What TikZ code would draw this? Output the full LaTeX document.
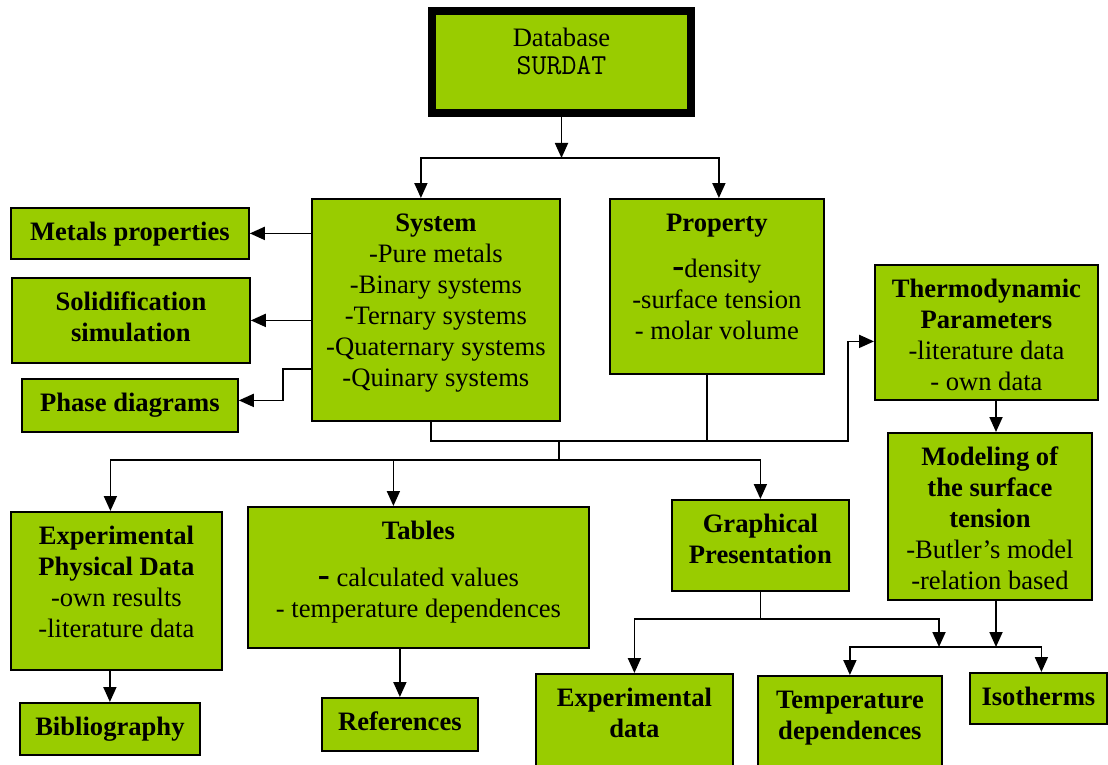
\documentclass[tikz,border=0pt]{standalone}
\usepackage{fontspec}
\setmainfont{Liberation Serif}
\usepackage{xcolor}
\usepackage{tikz}
\usetikzlibrary{arrows.meta, positioning, calc}
\definecolor{leaf}{RGB}{153,204,0}

\begin{document}
\begin{tikzpicture}[
  x=1pt, y=-1pt,
  font=\fontsize{26.6}{31}\selectfont,
  every node/.style={text=black},
  bx/.style={rectangle, draw=black, line width=1.8pt, fill=leaf,
             align=center, inner xsep=3pt, inner ysep=0pt,
             text height=33pt, anchor=north west},
  ar/.style={-{Triangle[length=15pt, width=13pt]}, line width=1.8pt, black},
  ln/.style={line width=1.8pt, black}
]
\useasboundingbox (0,0) rectangle (1108,765);
\clip (0,0) rectangle (1108,765);

%  Root 
\node[bx, line width=8pt, minimum width=259pt, text height=64pt, text depth=38pt]
      (db) at (428,7) {Database \\[-3pt] {\fontsize{29}{29}\ttfamily SURDAT}};

%  Second level 
\node[bx, minimum width=248pt, text height=188pt, text depth=34pt] (sys) at (311,198)
      {\textbf{System} \\ -Pure metals \\ -Binary systems \\ -Ternary systems \\
       -Quaternary systems \\ -Quinary systems};
\node[bx, minimum width=214pt, text height=141pt, text depth=34pt] (prop) at (609,198)
      {\textbf{Property} \\[15pt] {\fontsize{36}{31}\selectfont\textbf{-}}density \\
       -surface tension \\ - molar volume};
\node[bx, minimum width=223pt, text height=126pt, text depth=9pt] (thermo) at (874,264)
      {\textbf{Thermodynamic} \\ \textbf{Parameters} \\ -literature data \\ - own data};
\node[bx, minimum width=204pt, text height=157pt, text depth=10pt] (model) at (887,432)
      {\textbf{Modeling of} \\ \textbf{the surface} \\ \textbf{tension} \\
       -Butler's model \\ -relation based};

%  Left column 
\node[bx, minimum width=238pt, text depth=18pt] (metals) at (10,207)
      {\textbf{Metals properties}};
\node[bx, minimum width=238pt, text height=64pt, text depth=21pt] (solid) at (11,277)
      {\textbf{Solidification} \\ \textbf{simulation}};
\node[bx, minimum width=216pt, text depth=20pt] (phase) at (21,378)
      {\textbf{Phase diagrams}};

%  Third level 
\node[bx, minimum width=211pt, text height=126pt, text depth=32pt] (expphys) at (10,511)
      {\textbf{Experimental} \\ \textbf{Physical Data} \\ -own results \\ -literature data};
\node[bx, minimum width=341pt, text height=111pt, text depth=30pt] (tables) at (247,506)
      {\textbf{Tables} \\[16pt] {\fontsize{36}{31}\selectfont\textbf{-}} calculated values \\
       - temperature dependences};
\node[bx, minimum width=177pt, text height=64pt, text depth=27pt] (graph) at (671,499)
      {\textbf{Graphical} \\ \textbf{Presentation}};

%  Leaves 
\node[bx, minimum width=180pt, text depth=19pt] (biblio) at (19,702)
      {\textbf{Bibliography}};
\node[bx, minimum width=156pt, text depth=20pt] (refs) at (321,697)
      {\textbf{References}};
\node[bx, minimum width=197pt, text height=64pt, text depth=38pt] (expdata) at (535,673)
      {\textbf{Experimental} \\ \textbf{data}};
\node[bx, minimum width=184pt, text height=64pt, text depth=36pt] (tempdep) at (757,675)
      {\textbf{Temperature} \\ \textbf{dependences}};
\node[bx, minimum width=137pt, text depth=18pt] (iso) at (969,672)
      {\textbf{Isotherms}};

%  Junctions 
\coordinate (jdb)  at ($(db.south)+(0,41)$);
\coordinate (jmrg) at (559,441);
\coordinate (jspl) at (559,460);
\coordinate (jgr)  at ($(graph.south)+(0,27)$);
\coordinate (jiso) at (939,647);
\coordinate (jmod) at (996,647);

%  Connections 
\draw[ar] (db.south) -- (jdb);
\draw[ar] (jdb) -| ([xshift=-15pt]sys.north);
\draw[ar] (jdb) -| ([xshift=2pt]prop.north);
\draw[ar] (sys.west |- metals) -- (metals);
\draw[ar] (sys.west |- solid) -- (solid);
\draw[ar] ([yshift=-59pt]sys.west) -- ++(-28,0) |- ([yshift=5pt]phase.east);
\draw[ln] ([xshift=-5pt]sys.south) |- (jmrg);
\draw[ln] ([xshift=-10pt]prop.south) |- (jmrg);
\draw[ar] (jmrg) -- ++(289,0) |- ([yshift=-9pt]thermo.west);
\draw[ln] (jmrg) -- (jspl);
\draw[ar] (jspl) -| ([xshift=-6pt]expphys.north);
\draw[ar] (jspl) -| ([xshift=-25pt]tables.north);
\draw[ar] (jspl) -| (graph.north);
\draw[ar] (expphys.south -| biblio) -- (biblio);
\draw[ar] (tables.south -| refs) -- (refs);
\draw[ar] (thermo.south -| jmod) -- (model.north -| jmod);
\draw[ar] (model.south -| jmod) -- (jmod);
\draw[ln] (graph.south) -- (jgr);
\draw[ar] (jgr) -| (expdata.north);
\draw[ar] (jgr) -| (jiso);
\draw[ar] (jmod) -| (tempdep.north);
\draw[ar] (jmod) -| ([xshift=3pt]iso.north);
\end{tikzpicture}
\end{document}
